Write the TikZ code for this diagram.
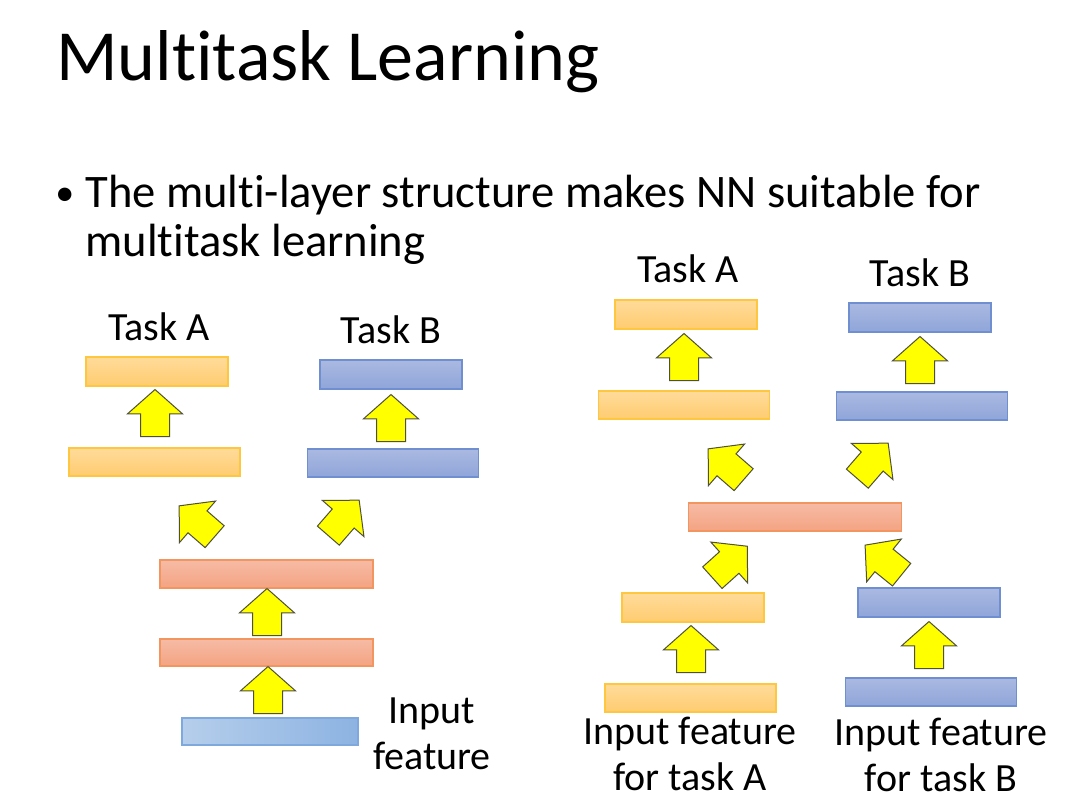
\documentclass[tikz,border=0pt]{standalone}
\usepackage{fontspec}
\setmainfont{Carlito}[Ligatures=NoCommon]
\usepackage{xcolor}
\usetikzlibrary{shapes.arrows,positioning}
\definecolor{orangetop}{RGB}{255,219,154}
\definecolor{orangebot}{RGB}{255,204,112}
\definecolor{orangeline}{RGB}{255,198,64}
\definecolor{bluetop}{RGB}{170,185,225}
\definecolor{bluebot}{RGB}{143,165,217}
\definecolor{blueline}{RGB}{112,143,208}
\definecolor{redtop}{RGB}{246,187,165}
\definecolor{redbot}{RGB}{244,163,130}
\definecolor{redline}{RGB}{242,149,94}
\definecolor{inleft}{RGB}{181,206,235}
\definecolor{inright}{RGB}{141,179,226}
\definecolor{inline}{RGB}{127,169,220}
\definecolor{arrfill}{RGB}{255,255,0}
\definecolor{arrline}{RGB}{80,80,60}

\begin{document}
\begin{tikzpicture}[x=0.5pt, y=-0.5pt,
  bar/.style={rectangle, inner sep=0pt, line width=0.6pt, minimum width=71pt, minimum height=14.5pt},
  longbar/.style={bar, minimum width=85.5pt, minimum height=14pt},
  orangebar/.style={draw=orangeline, top color=orangetop, bottom color=orangebot},
  bluebar/.style={draw=blueline, top color=bluetop, bottom color=bluebot},
  redbar/.style={bar, draw=redline, top color=redtop, bottom color=redbot, minimum width=106.5pt, minimum height=14pt},
  inbar/.style={bar, draw=inline, left color=inleft, right color=inright, minimum width=88pt, minimum height=13.5pt},
  blockarr/.style={single arrow, draw=arrline, fill=arrfill, line width=0.5pt, inner xsep=0pt, inner ysep=7pt,
    minimum height=23.5pt, single arrow head extend=6.5pt,
    single arrow tip angle=97, anchor=tail},
  label/.style={font=\fontsize{20}{23}\selectfont, align=center}
]
\useasboundingbox[fill=white] (0,0) rectangle (1086,800);

% heading and bullet
\node[anchor=base west, inner sep=0pt, font=\fontsize{36}{44}\selectfont] (title) at (56,80) {Multitask Learning};
\node[anchor=base west, inner sep=0pt, font=\fontsize{19}{24.5}\selectfont] (bullet) at (55,205) {•};
\node[anchor=base west, inner sep=0pt, align=left, font=\fontsize{23.3}{24.5}\selectfont] (point) at (85,256)
  {The multi-layer structure makes NN suitable for\\multitask learning};

% left: shared lower layers
\node[bar, orangebar] (la2) at (157,371.5) {};
\node[longbar, orangebar] (la1) at (154.5,462) {};
\node[bar, bluebar] (lb2) at (391,374.5) {};
\node[longbar, bluebar] (lb1) at (393,463) {};
\node[redbar] (lr2) at (266.5,574) {};
\node[redbar, minimum height=13.5pt] (lr1) at (266.5,652.5) {};
\node[inbar] (lin) at (270,731.5) {};

\node[label, anchor=base] (lta) at (159,340) {Task A};
\node[label, anchor=base] (ltb) at (391,343) {Task B};
\node[label] (lfeat) at (432,734) {Input\\feature};

\node[blockarr, rotate=90] (lu1) at (268,714) {};
\node[blockarr, rotate=90] (lu2) at (267,636) {};
\node[blockarr, rotate=139] (lda) at (215,537) {};
\node[blockarr, rotate=49] (ldb) at (328,536) {};
\node[blockarr, rotate=90] (lua) at (155,437) {};
\node[blockarr, rotate=90] (lub) at (391,442) {};

% right: shared middle layer
\node[bar, orangebar] (ra2) at (686,314.5) {};
\node[longbar, orangebar] (ra1) at (684,405) {};
\node[bar, bluebar] (rb2) at (920,317.5) {};
\node[longbar, bluebar] (rb1) at (922,406) {};
\node[redbar] (rshared) at (795,517) {};
\node[bar, orangebar] (rain2) at (693,607.5) {};
\node[bar, bluebar] (rbin2) at (929,602.5) {};
\node[longbar, orangebar] (rain1) at (690.5,698) {};
\node[longbar, bluebar] (rbin1) at (931,692) {};

\node[label, anchor=base] (rta) at (688,282) {Task A};
\node[label, anchor=base] (rtb) at (920,286) {Task B};
\node[label] (rfa) at (690,754) {Input feature\\for task A};
\node[label] (rfb) at (941,755) {Input feature\\for task B};

\node[blockarr, rotate=90] (rua1) at (691,673) {};
\node[blockarr, rotate=90] (rub1) at (929,669) {};
\node[blockarr, rotate=42] (rda1) at (712,578) {};
\node[blockarr, rotate=141] (rdb1) at (902,575) {};
\node[blockarr, rotate=139] (rda2) at (744,480) {};
\node[blockarr, rotate=49] (rdb2) at (857,479) {};
\node[blockarr, rotate=90] (rua2) at (684,381) {};
\node[blockarr, rotate=90] (rub2) at (920,384) {};
\end{tikzpicture}
\end{document}
